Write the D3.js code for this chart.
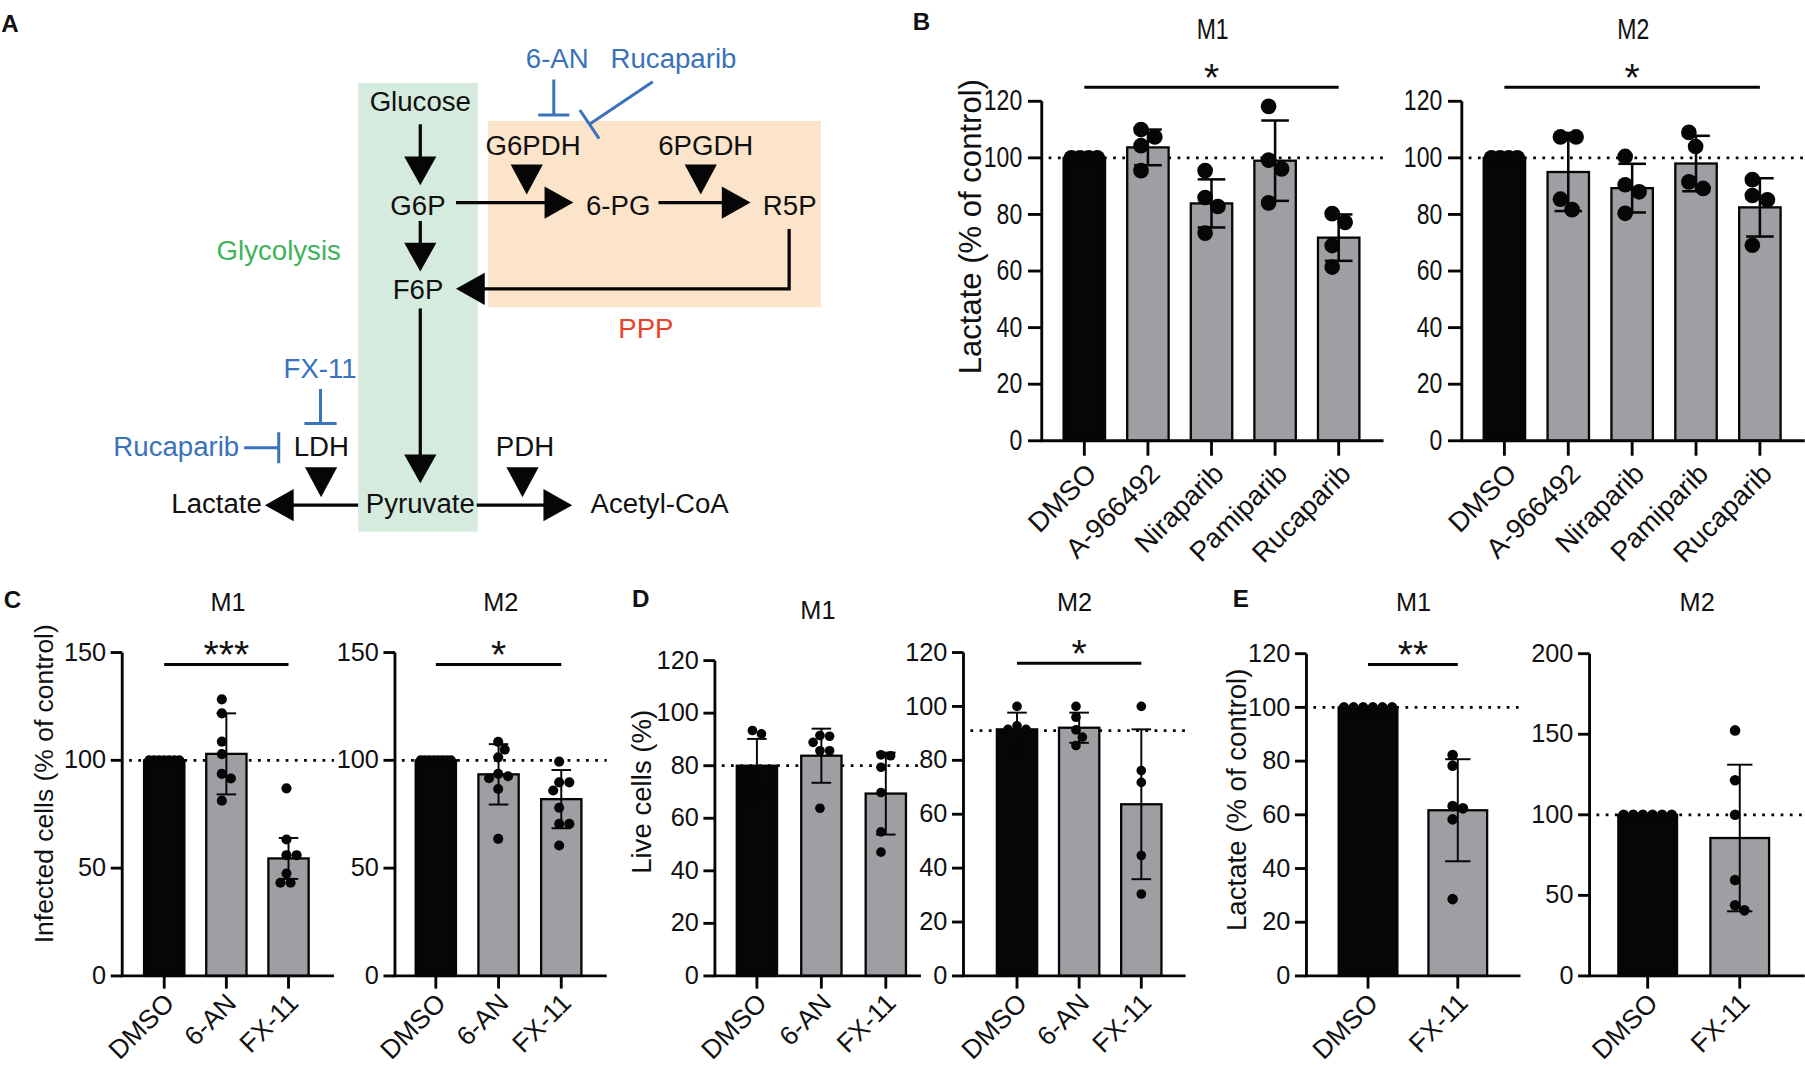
<!DOCTYPE html>
<html>
<head>
<meta charset="utf-8">
<script src="https://cdn.jsdelivr.net/npm/d3@7"></script>
<style>
  html, body { margin: 0; padding: 0; background: #fff; }
  svg { display: block; }
  text { font-family: "Liberation Sans", Arial, Helvetica, sans-serif; fill: #111; }
</style>
</head>
<body>
<svg id="fig"></svg>
<script>
// ---- data ----
const bCats = ["DMSO", "A-966492", "Niraparib", "Pamiparib", "Rucaparib"];
const bTicks = [0, 20, 40, 60, 80, 100, 120];
const bM1Mean = [100, 103.7, 83.9, 99, 71.8];
const bM1Sd = [0, 6.3, 8.5, 14.2, 8.2];
const bM1Points = [
  [100, 100, 100, 100],
  [107.4, 110, 104.3, 95.5],
  [95.5, 86, 82.8, 73.4],
  [118.2, 99.2, 96.1, 84.1],
  [80.3, 77.2, 69, 61.4]
];
const bM2Mean = [100, 95, 89.3, 98, 82.5];
const bM2Sd = [0, 13.8, 8.6, 9.8, 10.3];
const bM2Points = [
  [100, 100, 100, 100],
  [107.4, 107.4, 81.7, 85.4],
  [100.5, 90.5, 88, 80.4],
  [109, 104, 89.2, 91.5],
  [92.3, 86.7, 85.2, 69.1]
];

const cdCats = ["DMSO", "6-AN", "FX-11"];
const cTicks = [0, 50, 100, 150];
const cM1Mean = [100, 103, 54.5];
const cM1Sd = [0, 18.8, 9.5];
const cM1Points = [
  [100, 100, 100, 100, 100, 100, 100],
  [128.3, 121.8, 108.7, 102.9, 93.7, 91.6, 81.3],
  [87, 63.3, 56, 56, 47.5, 43.2, 43.2]
];
const cM2Mean = [100, 93.5, 82];
const cM2Sd = [0, 14, 13.5];
const cM2Points = [
  [100, 100, 100, 100, 100, 100, 100, 100],
  [108.6, 105, 101.4, 93.7, 92.6, 91.7, 86.7, 63.6],
  [99.4, 89.8, 89.8, 86, 78, 70.5, 70.5, 60.5]
];

const dTicks = [0, 20, 40, 60, 80, 100, 120];
const dM1Mean = [80, 83.8, 69.4];
const dM1Sd = [10.2, 10.3, 15.6];
const dM1Points = [
  [92.1, 93.4, 76, 72, 66.5],
  [88.9, 91.2, 91.5, 85.7, 85.7, 63.8],
  [83.8, 84.1, 79.4, 69.8, 54.8, 47.1]
];
const dM2Mean = [91.5, 92.1, 63.7];
const dM2Sd = [6.2, 5.6, 27.8];
const dM2Points = [
  [100, 92.8, 91.5, 91.5, 81.7],
  [100, 96, 91.3, 88.6, 85.5],
  [100, 76.2, 71.8, 44.7, 30.4]
];

const eCats = ["DMSO", "FX-11"];
const eM1Ticks = [0, 20, 40, 60, 80, 100, 120];
const eM2Ticks = [0, 50, 100, 150, 200];
const eM1Mean = [100, 61.7];
const eM1Sd = [0, 19];
const eM1Points = [
  [100, 100, 100, 100, 100, 100],
  [82.3, 78.3, 63.3, 62.4, 58.3, 28.6]
];
const eM2Mean = [100, 85.6];
const eM2Sd = [0, 45.5];
const eM2Points = [
  [100, 100, 100, 100, 100, 100],
  [152.4, 121.5, 100, 59.5, 43.8, 40.7]
];

// significance brackets: [from, to, level, label]
const sigB = ["DMSO", "Rucaparib", 125, "*"];
const sigC1 = ["DMSO", "FX-11", 144.5, "***"];
const sigC2 = ["DMSO", "FX-11", 144.5, "*"];
const sigD2 = ["DMSO", "FX-11", 116, "*"];
const sigE1 = ["DMSO", "FX-11", 116, "**"];

// ---- svg, drawn in a 1568x928 frame scaled up to the window ----
const svg = d3.select("#fig")
  .attr("width", 1805)
  .attr("height", 1068)
  .attr("viewBox", "0 0 1568 928");

const BLACK = "#060606";
const GREY = "#9e9ea3";
const BLUE = "#3a72bb";

function swarm(vals, y, r, maxOff) {
  const placed = [];
  const out = new Array(vals.length);
  const order = vals.map((v, i) => ({ i, py: y(v) })).sort((a, b) => a.py - b.py);
  for (const p of order) {
    const cands = [0];
    for (const q of placed) {
      const dy = Math.abs(q.py - p.py);
      if (dy < 2 * r) {
        const dx = Math.sqrt(4 * r * r - dy * dy);
        cands.push(q.x + dx, q.x - dx);
      }
    }
    cands.sort((a, b) => Math.abs(a) - Math.abs(b) || b - a);
    let best = 0;
    for (const c of cands) {
      if (placed.every(q => (q.x - c) ** 2 + (q.py - p.py) ** 2 >= 4 * r * r - 0.01)) { best = c; break; }
    }
    p.x = best;
    placed.push(p);
    out[p.i] = best;
  }
  const lo = d3.min(out), hi = d3.max(out);
  let res = out.map(o => o - (lo + hi) / 2);
  const m = d3.max(res, Math.abs);
  if (m > maxOff) res = res.map(o => o * maxOff / m);
  return res;
}

// squeeze text horizontally (the B panel uses a condensed face)
function squeeze(sel, k) {
  sel.each(function () {
    const w = this.getComputedTextLength();
    d3.select(this).attr("textLength", w * k).attr("lengthAdjust", "spacingAndGlyphs");
  });
}

function drawChart(p) {
  const g = svg.append("g");
  const y = d3.scaleLinear().domain([0, p.yMax]).range([p.y0, p.yTop]);
  const n = p.cats.length;
  const step = (p.barR - p.barL - p.bw) / (n - 1);
  const x = d3.scaleBand().domain(p.cats).range([p.barL, p.barR])
    .paddingInner(1 - p.bw / step).paddingOuter(0);
  const cx = d => x(d) + x.bandwidth() / 2;

  // reference dotted line
  g.append("line")
    .attr("x1", p.axX + 6).attr("x2", p.axEnd)
    .attr("y1", y(p.ref)).attr("y2", y(p.ref))
    .attr("stroke", BLACK).attr("stroke-width", 2.4)
    .attr("stroke-dasharray", "2.4,5.6");

  // bars
  g.selectAll("rect.bar").data(p.cats).join("rect")
    .attr("class", "bar")
    .attr("x", d => x(d)).attr("width", x.bandwidth())
    .attr("y", (d, i) => y(p.mean[i]))
    .attr("height", (d, i) => y(0) - y(p.mean[i]))
    .attr("fill", (d, i) => i === 0 ? BLACK : GREY)
    .attr("stroke", BLACK).attr("stroke-width", 2);

  // error bars (mean +/- SD)
  const errs = p.cats.map((c, i) => ({ c, m: p.mean[i], s: p.sd[i] })).filter(d => d.s > 0);
  const eb = g.selectAll("g.err").data(errs).join("g")
    .attr("class", "err").attr("stroke", BLACK).attr("stroke-width", p.errW);
  eb.append("line")
    .attr("x1", d => cx(d.c)).attr("x2", d => cx(d.c))
    .attr("y1", d => y(d.m - d.s)).attr("y2", d => y(d.m + d.s));
  eb.selectAll("line.cap").data(d => [[d.c, d.m - d.s], [d.c, d.m + d.s]]).join("line")
    .attr("class", "cap")
    .attr("x1", d => cx(d[0]) - p.capW / 2).attr("x2", d => cx(d[0]) + p.capW / 2)
    .attr("y1", d => y(d[1])).attr("y2", d => y(d[1]));

  // individual points
  p.cats.forEach((c, i) => {
    const offs = swarm(p.pts[i], y, p.r, x.bandwidth() / 2 - p.r);
    g.append("g").selectAll("circle").data(p.pts[i]).enter().append("circle")
      .attr("cx", (d, j) => cx(c) + offs[j])
      .attr("cy", d => y(d))
      .attr("r", p.r)
      .attr("fill", BLACK);
  });

  // axes
  const yAx = g.append("g")
    .attr("transform", `translate(${p.axX},0)`)
    .call(d3.axisLeft(y).tickValues(p.ticks).tickSize(p.tick).tickSizeOuter(0).tickPadding(p.pad).offset(0));
  const xAx = g.append("g")
    .attr("transform", `translate(0,${p.y0})`)
    .call(d3.axisBottom(x).tickSize(p.tick + 1).tickSizeOuter(0).offset(0));
  xAx.select(".domain").attr("d", `M${p.axX - 1.2},0H${p.axEnd}`);
  [yAx, xAx].forEach(a => {
    a.attr("font-family", null).attr("font-size", p.fontSize);
    a.select(".domain").attr("stroke", BLACK).attr("stroke-width", 2.5);
    a.selectAll(".tick line").attr("stroke", BLACK).attr("stroke-width", 2.5);
    a.selectAll(".tick text").attr("fill", "#111");
  });
  xAx.selectAll(".tick text")
    .attr("font-size", p.xFontSize)
    .attr("x", 0).attr("y", 0).attr("dy", 0)
    .attr("text-anchor", "end")
    .attr("transform", `translate(${p.lab[0]},${p.lab[1]}) rotate(-45)`);

  // title
  const t = g.append("text")
    .attr("x", (p.axX + p.axEnd) / 2).attr("y", p.titleY)
    .attr("text-anchor", "middle")
    .attr("font-size", p.titleSize)
    .text(p.title);

  // significance
  if (p.sig) {
    const ys = y(p.sig[2]);
    const x1 = cx(p.sig[0]), x2 = cx(p.sig[1]);
    g.append("line").attr("x1", x1).attr("x2", x2).attr("y1", ys).attr("y2", ys)
      .attr("stroke", BLACK).attr("stroke-width", 2.6);
    g.append("text").attr("x", (x1 + x2) / 2).attr("y", ys + 3)
      .attr("text-anchor", "middle").attr("font-size", 34)
      .text(p.sig[3]);
  }

  if (p.narrow) {
    squeeze(yAx.selectAll(".tick text"), p.narrow);
    squeeze(t, p.narrow);
  }

  // y title
  if (p.yTitle) {
    g.append("text")
      .attr("transform", `translate(${p.yTitle[1]},${p.yTitle[2]}) rotate(-90)`)
      .attr("text-anchor", "middle").attr("dominant-baseline", "central")
      .attr("font-size", p.yTitle[3])
      .text(p.yTitle[0]);
  }
}

const bBase = { cats: bCats, ticks: bTicks, yMax: 120, ref: 100, y0: 383, yTop: 88, bw: 36, r: 6.8,
  errW: 2.2, capW: 24, narrow: 0.8, fontSize: 25, xFontSize: 24, titleSize: 25, titleY: 34,
  tick: 12, pad: 5, lab: [12, 30], sig: sigB };
drawChart({ ...bBase, mean: bM1Mean, sd: bM1Sd, pts: bM1Points, title: "M1",
  axX: 905, axEnd: 1202, barL: 924, barR: 1181, yTitle: ["Lactate (% of control)", 843, 197, 27] });
drawChart({ ...bBase, mean: bM2Mean, sd: bM2Sd, pts: bM2Points, title: "M2",
  axX: 1270, axEnd: 1568, barL: 1289, barR: 1547 });

const lowBase = { fontSize: 22, xFontSize: 23, titleSize: 22, titleY: 531, y0: 848, r: 4.4,
  errW: 1.7, capW: 17, bw: 35, tick: 10, pad: 4, lab: [10, 25] };
drawChart({ ...lowBase, cats: cdCats, ticks: cTicks, yMax: 150, yTop: 567, ref: 100,
  mean: cM1Mean, sd: cM1Sd, pts: cM1Points, title: "M1", sig: sigC1,
  axX: 106, axEnd: 290, barL: 125, barR: 268, yTitle: ["Infected cells (% of control)", 38, 681, 23] });
drawChart({ ...lowBase, cats: cdCats, ticks: cTicks, yMax: 150, yTop: 567, ref: 100,
  mean: cM2Mean, sd: cM2Sd, pts: cM2Points, title: "M2", sig: sigC2,
  axX: 343, axEnd: 527, barL: 361, barR: 505 });
drawChart({ ...lowBase, cats: cdCats, ticks: dTicks, yMax: 120, yTop: 574, ref: 80, r: 4.2,
  mean: dM1Mean, sd: dM1Sd, pts: dM1Points, title: "M1", titleY: 538,
  axX: 621, axEnd: 800, barL: 640, barR: 787, yTitle: ["Live cells (%)", 557, 688, 24] });
drawChart({ ...lowBase, cats: cdCats, ticks: dTicks, yMax: 120, yTop: 567, ref: 91, r: 4.2,
  mean: dM2Mean, sd: dM2Sd, pts: dM2Points, title: "M2", sig: sigD2,
  axX: 837, axEnd: 1030, barL: 866, barR: 1009 });
drawChart({ ...lowBase, cats: eCats, ticks: eM1Ticks, yMax: 120, yTop: 568, ref: 100, bw: 51, r: 4.6, capW: 22,
  mean: eM1Mean, sd: eM1Sd, pts: eM1Points, title: "M1", sig: sigE1,
  axX: 1135, axEnd: 1321, barL: 1163, barR: 1292, yTitle: ["Lactate (% of control)", 1074, 695, 24] });
drawChart({ ...lowBase, cats: eCats, ticks: eM2Ticks, yMax: 200, yTop: 568, ref: 100, bw: 51, r: 4.6, capW: 22,
  mean: eM2Mean, sd: eM2Sd, pts: eM2Points, title: "M2",
  axX: 1381, axEnd: 1568, barL: 1406, barR: 1537 });

// ---- panel A: pathway diagram ----
const A = svg.append("g");
A.append("rect").attr("x", 311).attr("y", 72).attr("width", 104).attr("height", 390).attr("fill", "#d5ebdd");
A.append("rect").attr("x", 424).attr("y", 105).attr("width", 289).attr("height", 162).attr("fill", "#fce4cb");

const nodes = [
  ["Glucose", 365, 88], ["G6P", 363, 178], ["F6P", 363, 251], ["Pyruvate", 365, 437],
  ["6-PG", 537, 178], ["R5P", 686, 178], ["G6PDH", 463, 126], ["6PGDH", 613, 126],
  ["LDH", 279, 388], ["PDH", 456, 388], ["Lactate", 188, 437], ["Acetyl-CoA", 573, 437]
];
const blueLabels = [["6-AN", 484, 51], ["Rucaparib", 585, 51], ["FX-11", 278, 320], ["Rucaparib", 153, 388]];

function label(list, color) {
  A.selectAll(null).data(list).enter().append("text")
    .attr("x", d => d[1]).attr("y", d => d[2] + 8.5)
    .attr("text-anchor", "middle").attr("font-size", 24)
    .style("fill", color)
    .text(d => d[0]);
}
label(nodes, "#111");
label(blueLabels, BLUE);
label([["Glycolysis", 242, 217]], "#3fb35c");
label([["PPP", 561, 285]], "#ea4128");

const HEAD_L = 25, HEAD_W = 28;
function head(tx, ty, ux, uy) {
  const bx = tx - ux * HEAD_L, by = ty - uy * HEAD_L;
  const px = -uy * HEAD_W / 2, py = ux * HEAD_W / 2;
  A.append("path")
    .attr("d", `M${tx},${ty}L${bx + px},${by + py}L${bx - px},${by - py}Z`)
    .attr("fill", BLACK);
}
function arrow(pts) {
  const n = pts.length;
  const [tx, ty] = pts[n - 1], [sx, sy] = pts[n - 2];
  const len = Math.hypot(tx - sx, ty - sy);
  const ux = (tx - sx) / len, uy = (ty - sy) / len;
  const line = pts.slice(0, n - 1).concat([[tx - ux * HEAD_L * 0.8, ty - uy * HEAD_L * 0.8]]);
  A.append("path").attr("d", d3.line()(line))
    .attr("fill", "none").attr("stroke", BLACK).attr("stroke-width", 2.8);
  head(tx, ty, ux, uy);
}
arrow([[365, 108], [365, 161]]);
arrow([[365, 192], [365, 236]]);
arrow([[365, 268], [365, 420]]);
arrow([[396, 176], [498, 176]]);
arrow([[572, 176], [652, 176]]);
arrow([[685.5, 199], [685.5, 251], [396, 251]]);
arrow([[311, 439], [230, 439]]);
arrow([[414, 439], [497, 439]]);

// enzyme triangles
[[457.5, 143], [608.7, 143], [278.8, 406], [453.8, 406]].forEach(([x, y]) => {
  A.append("path").attr("d", `M${x - 14},${y}L${x + 14},${y}L${x},${y + 26}Z`).attr("fill", BLACK);
});

// inhibition marks
function inhibit(x1, y1, x2, y2, barLen) {
  const len = Math.hypot(x2 - x1, y2 - y1);
  const ux = (x2 - x1) / len, uy = (y2 - y1) / len;
  const px = -uy * barLen / 2, py = ux * barLen / 2;
  A.append("path")
    .attr("d", `M${x1},${y1}L${x2},${y2}M${x2 + px},${y2 + py}L${x2 - px},${y2 - py}`)
    .attr("fill", "none").attr("stroke", BLUE).attr("stroke-width", 2.6);
}
inhibit(481, 69, 481, 100, 27);
inhibit(567, 71, 512, 108, 30);
inhibit(278.3, 338, 278.3, 368, 28);
inhibit(212, 389, 242, 389, 27);

// panel letters
svg.selectAll("text.letter").data([["A", 1, 28], ["B", 793, 26], ["C", 3, 528], ["D", 549, 527], ["E", 1071, 527]])
  .join("text").attr("class", "letter")
  .attr("x", d => d[1]).attr("y", d => d[2])
  .attr("font-size", 21).attr("font-weight", "bold")
  .text(d => d[0]);
</script>
</body>
</html>
